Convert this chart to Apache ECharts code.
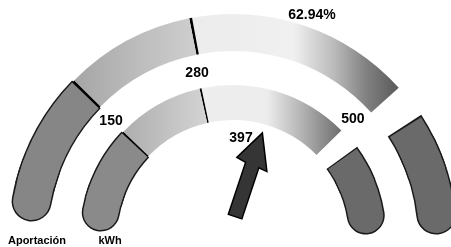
<!DOCTYPE html>
<html>
<head>
<meta charset="utf-8">
<script src="https://cdn.jsdelivr.net/npm/echarts@6/dist/echarts.min.js"></script>
<style>
  html, body { margin: 0; padding: 0; background: #fff; }
  #chart { width: 451px; height: 247px; }
</style>
</head>
<body>
<div id="chart"></div>
<script>
// kWh scale and the two readings
const scaleMin = 0
const scaleMax = 500
const scaleTicks = [150, 280, 500]
const ringNames = ['Aportación', 'kWh']
const ringValues = [62.94, 397]
const capValue = 42 // where the square body starts after the round cap

const CENTER = [233, 237]
const FONT = 'Liberation Sans, Arial, sans-serif'
const EDGE = '#1a1a1a'

const hGrad = (x1, x2, stops) => ({
  type: 'linear', x: x1, y: 0, x2: x2, y2: 0, global: true,
  colorStops: stops.map(([offset, color]) => ({ offset, color })),
})

const outerFills = [
  '#868686',
  hGrad(65, 195, [[0, '#a2a2a2'], [0.6, '#bebebe'], [1, '#cecece']]),
  hGrad(190, 398, [[0, '#ececec'], [0.5, '#f0f0f0'], [0.7, '#b8b8b8'], [0.85, '#808080'], [1, '#5a5a5a']]),
]
const innerFills = [
  '#8a8a8a',
  hGrad(120, 207, [[0, '#acacac'], [1, '#d4d4d4']]),
  hGrad(205, 343, [[0, '#eeeeee'], [0.45, '#ececec'], [0.7, '#b4b4b4'], [1, '#6a6a6a']]),
]
const pieceFill = '#6a6a6a'

// colour stops along the scale, with a thin black mark at each inner tick
const segments = (fills) => {
  const half = 1.4
  const span = scaleMax - scaleMin
  const list = [[(capValue - scaleMin) / span, 'transparent']]
  scaleTicks.slice(0, -1).forEach((t, i) => {
    list.push([(t - half - scaleMin) / span, fills[i]])
    list.push([(t + half - scaleMin) / span, '#000'])
  })
  list.push([1, fills[fills.length - 1]])
  return list
}

const hidden = {
  pointer: { show: false }, progress: { show: false }, anchor: { show: false },
  axisTick: { show: false }, splitLine: { show: false }, axisLabel: { show: false },
  title: { show: false }, detail: { show: false },
}

// plain arc piece, only used for caps, outlines and the detached ends
const band = (r, w, a0, a1, color, round) => Object.assign({
  type: 'gauge', center: CENTER, radius: r, startAngle: a0, endAngle: a1,
  min: 0, max: 1, silent: true,
  axisLine: { roundCap: round, lineStyle: { width: w, color: [[1, color]] } },
  data: [],
}, hidden)

const angleAt = (v, a0, a1) => a0 + (a1 - a0) * (v - scaleMin) / (scaleMax - scaleMin)

const textStyle = { color: '#000', fontFamily: FONT, fontWeight: 'bold' }

const outerMain = Object.assign({}, hidden, {
  type: 'gauge', center: CENTER, radius: 223, startAngle: 176, endAngle: 42,
  min: scaleMin, max: scaleMax, silent: true,
  axisLine: { lineStyle: { width: 37, color: segments(outerFills) } },
  data: [{ value: ringValues[0], name: ringNames[0] }],
  title: Object.assign({ show: true, offsetCenter: [-196, 4], fontSize: 11 }, textStyle),
  detail: Object.assign({
    show: true, offsetCenter: [79, -222], fontSize: 14, lineHeight: 14,
    formatter: '{value}%',
  }, textStyle),
})

const innerMain = Object.assign({}, hidden, {
  type: 'gauge', center: CENTER, radius: 152, startAngle: 176, endAngle: 44.5,
  min: scaleMin, max: scaleMax, splitNumber: 50, silent: true,
  axisLine: { lineStyle: { width: 35, color: segments(innerFills) } },
  splitLine: { show: false, length: 0, distance: 0 },
  axisLabel: Object.assign({
    show: true, distance: -16, rotate: 0.01, fontSize: 14,
    formatter: (v) => (scaleTicks.includes(v) ? String(v) : ''),
  }, textStyle),
  pointer: {
    show: true,
    icon: 'path://M15 0 L30 36 L22 35 L22 90 L9 90 L9 34 L0 32 Z',
    length: 88, width: 33, offsetCenter: [-5, -20], keepAspect: false,
    itemStyle: { color: '#353535', borderColor: '#000', borderWidth: 1.5 },
  },
  data: [{ value: ringValues[1], name: ringNames[1] }],
  title: Object.assign({ show: true, offsetCenter: [-123, 4], fontSize: 11 }, textStyle),
  detail: Object.assign({
    show: true, offsetCenter: [8, -99], fontSize: 14, lineHeight: 14,
    formatter: '{value}',
  }, textStyle),
})

const chart = echarts.init(document.getElementById('chart'))
chart.setOption({
  animation: false,
  backgroundColor: '#fff',
  series: [
    // outer ring: left cap + outline
    band(224.5, 40, 170, 160, EDGE, true),
    band(224.5, 40, 166, angleAt(scaleTicks[0], 176, 42), EDGE, false),
    band(223, 37, 170, 160, outerFills[0], true),
    // outer ring: detached right end
    band(224.5, 40, 26, 6.3, EDGE, true),
    band(224.5, 40, 33, 18, EDGE, false),
    band(223, 37, 26, 6.3, pieceFill, true),
    band(223, 37, 32.5, 18, pieceFill, false),
    // inner ring: left cap + outline
    band(153.5, 38, 169.5, 160, EDGE, true),
    band(153.5, 38, 165, angleAt(scaleTicks[0], 176, 44.5), EDGE, false),
    band(152, 35, 169.5, 160, innerFills[0], true),
    // inner ring: detached right end
    band(153.5, 38, 27, 9.2, EDGE, true),
    band(153.5, 38, 36, 22, EDGE, false),
    band(152, 35, 27, 9.2, pieceFill, true),
    band(152, 35, 35.5, 22, pieceFill, false),
    outerMain,
    innerMain,
  ],
})
</script>
</body>
</html>
